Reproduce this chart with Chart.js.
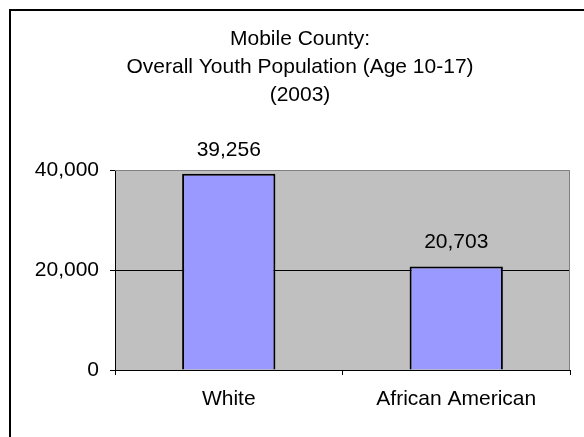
<!DOCTYPE html>
<html>
<head>
<meta charset="utf-8">
<script src="https://cdn.jsdelivr.net/npm/chart.js@4"></script>
<style>
  body { margin: 0; background: #fff; }
  canvas { display: block; }
</style>
</head>
<body>
<canvas id="youthChart" width="584" height="437"></canvas>
<script>
let titleLines = ['Mobile County:', 'Overall Youth Population (Age 10-17)', '(2003)'];
let categories = ['White', 'African American'];
let population = [39256, 20703];
let yTicks = [0, 20000, 40000];
let gridValues = [20000];

const FONT = 'Liberation Sans, Arial, sans-serif';
const FONT_SIZE = 21;

function formatNumber(v) {
    return v.toLocaleString('en-US');
}

// plot rectangle taken from the scales themselves
function plotRect(chart) {
    let x = chart.scales.x;
    let y = chart.scales.y;
    return { left: x.left, right: x.right, top: y.top, bottom: y.bottom };
}

const chartDecor = {
    id: 'chartDecor',
    beforeDraw: (chart) => {
        let ctx = chart.ctx;
        let area = plotRect(chart);
        ctx.save();
        ctx.fillStyle = '#ffffff';
        ctx.fillRect(0, 0, chart.width, chart.height);
        // outer chart border (runs off the right and bottom edges)
        ctx.strokeStyle = '#000000';
        ctx.lineWidth = 2;
        ctx.strokeRect(10, 10, 600, 500);
        // plot area
        ctx.fillStyle = '#c0c0c0';
        ctx.fillRect(area.left, area.top, area.right - area.left, area.bottom - area.top);
        // gridlines
        ctx.strokeStyle = '#000000';
        ctx.lineWidth = 1;
        gridValues.forEach(v => {
            let py = Math.round(chart.scales.y.getPixelForValue(v)) + 0.5;
            ctx.beginPath();
            ctx.moveTo(area.left, py);
            ctx.lineTo(area.right, py);
            ctx.stroke();
        });
        ctx.restore();
    },
    afterDatasetsDraw: (chart) => {
        let ctx = chart.ctx;
        let area = plotRect(chart);
        ctx.save();
        ctx.strokeStyle = '#808080';
        ctx.lineWidth = 1;
        ctx.beginPath();
        ctx.moveTo(area.left, area.top + 0.5);
        ctx.lineTo(area.right - 0.5, area.top + 0.5);
        ctx.lineTo(area.right - 0.5, area.bottom);
        ctx.stroke();

        // value labels above bars
        let meta = chart.getDatasetMeta(0);
        ctx.fillStyle = '#000000';
        ctx.font = FONT_SIZE + 'px ' + FONT;
        ctx.textAlign = 'center';
        ctx.textBaseline = 'middle';
        meta.data.forEach((bar, i) => {
            ctx.fillText(formatNumber(population[i]), bar.x, bar.y - 24);
        });
        ctx.restore();
    },
    afterDraw: (chart) => {
        let ctx = chart.ctx;
        ctx.save();
        ctx.fillStyle = '#000000';
        ctx.font = FONT_SIZE + 'px ' + FONT;
        ctx.textAlign = 'center';
        ctx.textBaseline = 'middle';
        titleLines.forEach((line, i) => {
            ctx.fillText(line, 300, 39 + i * 28);
        });
        ctx.restore();
    }
};

let ctx = document.getElementById('youthChart').getContext('2d');
let youthChart = new Chart(ctx, {
    type: 'bar',
    data: {
        labels: categories,
        datasets: [{
            label: 'Youth Population',
            data: population,
            backgroundColor: '#9999ff',
            borderColor: '#000000',
            borderWidth: 2,
            barPercentage: 0.41,
            categoryPercentage: 1.0
        }]
    },
    options: {
        responsive: false,
        animation: false,
        layout: {
            padding: { top: 170, right: 14, bottom: 0, left: 0 }
        },
        scales: {
            x: {
                offset: true,
                grid: {
                    offset: true,
                    drawOnChartArea: false,
                    drawTicks: true,
                    tickLength: 5,
                    tickColor: '#000000'
                },
                border: { display: true, color: '#000000', width: 1 },
                ticks: {
                    color: '#000000',
                    font: { family: FONT, size: FONT_SIZE },
                    padding: 12,
                    maxRotation: 0
                },
                afterFit: (scale) => { scale.height = 67; }
            },
            y: {
                min: 0,
                max: 40000,
                afterBuildTicks: (scale) => {
                    scale.ticks = yTicks.map(v => ({ value: v }));
                },
                grid: {
                    drawOnChartArea: false,
                    tickColor: '#000000',
                    tickLength: 5,
                    drawTicks: true
                },
                border: { display: true, color: '#000000', width: 1 },
                ticks: {
                    color: '#000000',
                    font: { family: FONT, size: FONT_SIZE },
                    padding: 11,
                    callback: (v) => formatNumber(v)
                },
                afterFit: (scale) => { scale.width = 115; }
            }
        },
        plugins: {
            legend: { display: false },
            title: { display: false },
            tooltip: { enabled: false }
        }
    },
    plugins: [chartDecor]
});
</script>
</body>
</html>
